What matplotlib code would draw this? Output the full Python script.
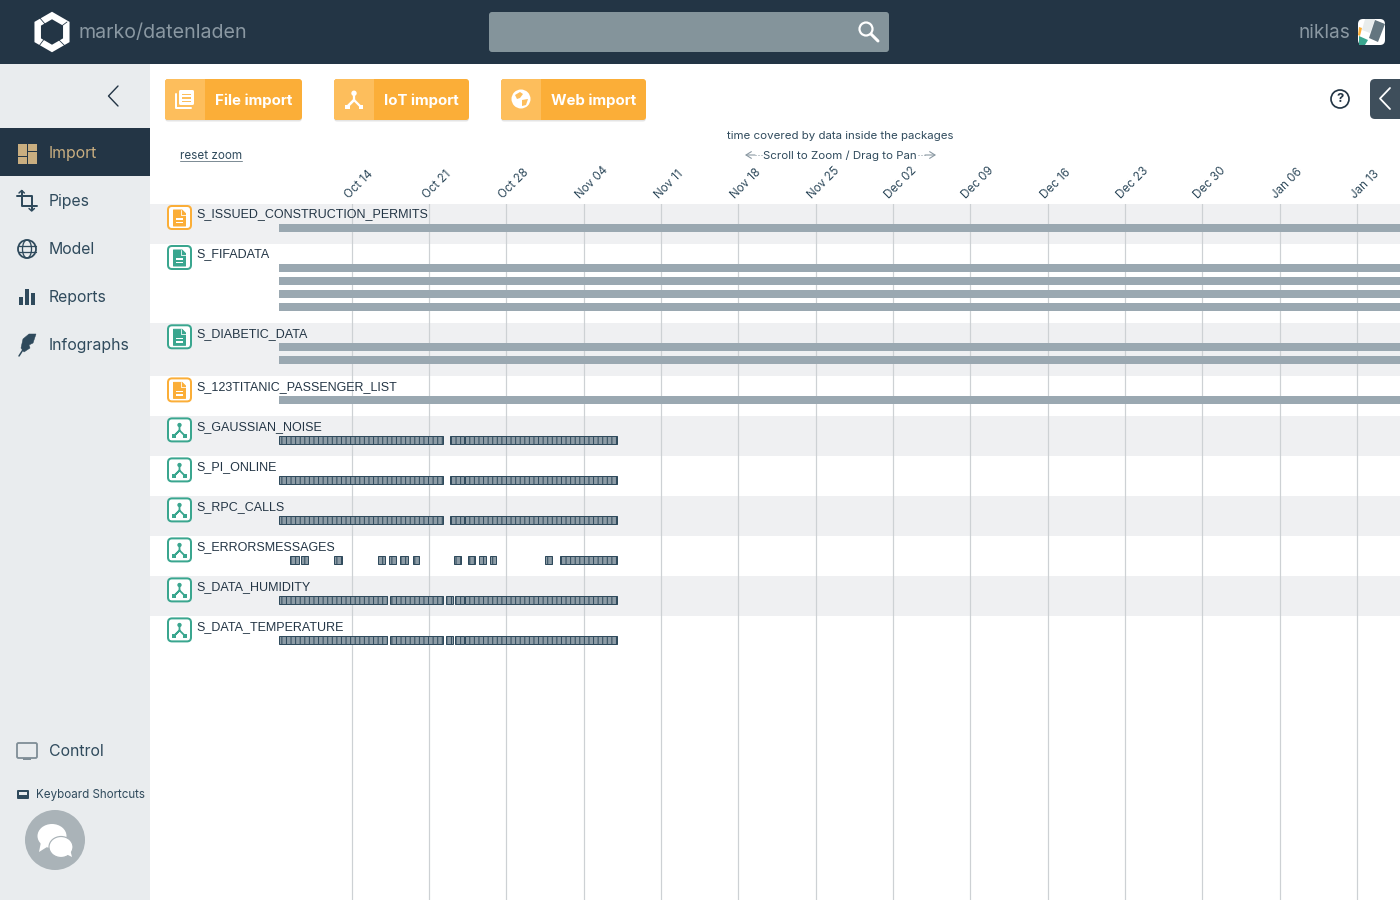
#!/usr/bin/env python
"""Recreates the data package timeline screen."""

import matplotlib
matplotlib.use('Agg')
import matplotlib.pyplot as plt
import matplotlib.dates as mdates
from datetime import datetime, timedelta
from matplotlib.patches import Circle, Ellipse, FancyBboxPatch, Polygon, Rectangle, RegularPolygon
from matplotlib.transforms import ScaledTranslation

DPI = 110

# data: all spans are days relative to Oct 14
row_names = ['S_ISSUED_CONSTRUCTION_PERMITS', 'S_FIFADATA', 'S_DIABETIC_DATA', 'S_123TITANIC_PASSENGER_LIST',
             'S_GAUSSIAN_NOISE', 'S_PI_ONLINE', 'S_RPC_CALLS', 'S_ERRORSMESSAGES', 'S_DATA_HUMIDITY', 'S_DATA_TEMPERATURE']
row_kinds = ['file_orange', 'file_teal', 'file_teal', 'file_orange', 'iot', 'iot', 'iot', 'iot', 'iot', 'iot']

full_start = -6.56
full_end = 100
file_tracks = {'S_ISSUED_CONSTRUCTION_PERMITS': 1, 'S_FIFADATA': 4, 'S_DIABETIC_DATA': 2, 'S_123TITANIC_PASSENGER_LIST': 1}

dense_spans = [(-6.56, 8.28), (8.91, 10.18), (10.27, 24.03)]
error_spans = [(-5.57, -4.75), (-4.57, -3.94), (-1.58, -0.86), (2.40, 3.03), (3.39, 4.03), (4.39, 5.11),
               (5.57, 6.11), (9.28, 9.91), (10.54, 11.18), (11.54, 12.17), (12.53, 13.08), (17.51, 18.14),
               (18.87, 24.03)]
sensor_spans = [(-6.56, 3.21), (3.48, 8.28), (8.55, 9.19), (9.37, 10.18), (10.27, 24.03)]
iot_spans = {'S_GAUSSIAN_NOISE': dense_spans, 'S_PI_ONLINE': dense_spans, 'S_RPC_CALLS': dense_spans,
             'S_ERRORSMESSAGES': error_spans, 'S_DATA_HUMIDITY': sensor_spans, 'S_DATA_TEMPERATURE': sensor_spans}

tick_labels = ['Oct 14', 'Oct 21', 'Oct 28', 'Nov 04', 'Nov 11', 'Nov 18', 'Nov 25',
               'Dec 02', 'Dec 09', 'Dec 16', 'Dec 23', 'Dec 30', 'Jan 06', 'Jan 13']
tick_days = [0, 7, 14, 21, 28, 35, 42, 49, 56, 63, 70, 77, 84, 91]

nav_items = ['Import', 'Pipes', 'Model', 'Reports', 'Infographs']

DARK = '#233545'
SIDE = '#e9ecee'
ORANGE = '#fbae38'
ORANGE_L = '#fdbe5c'
TEAL = '#3aa68f'
SLATE = '#2f4a5c'
MUTED = '#8a98a2'
UI_FONT = ['Inter', 'DejaVu Sans']
ROW_FONT = ['Liberation Sans', 'DejaVu Sans']

base_date = datetime(2018, 10, 14)


def fs(px):
    """Font size in points from a size in pixels."""
    return px * 72 / DPI


def lw(px):
    return px * 72 / DPI


def to_date(day):
    return mdates.date2num(base_date + timedelta(days=day))


def rounded(ax, x, y, w, h, r, **kw):
    p = FancyBboxPatch((x + r, y + r), w - 2 * r, h - 2 * r, boxstyle=f'round,pad={r},rounding_size={r}', **kw)
    ax.add_patch(p)
    return p


def rect(ax, x, y, w, h, color, **kw):
    ax.add_patch(Rectangle((x, y), w, h, facecolor=color, edgecolor='none', **kw))


def line(ax, xs, ys, color, width=1.5, **kw):
    ax.plot(xs, ys, color=color, lw=lw(width), solid_capstyle='round', solid_joinstyle='round', **kw)


def node_icon(ax, cx, cy, s, color):
    """Three connected nodes, s is half of the icon size."""
    line(ax, [cx, cx, cx - s, cx], [cy - s, cy, cy + s, cy], color, s * 0.3)
    line(ax, [cx, cx + s], [cy, cy + s], color, s * 0.3)
    ax.add_patch(Circle((cx, cy - s * 0.9), s * 0.36, fc=color, ec='none'))
    rect(ax, cx - s * 1.2, cy + s * 0.65, s * 0.6, s * 0.6, color)
    rect(ax, cx + s * 0.6, cy + s * 0.65, s * 0.6, s * 0.6, color)


def doc_icon(ax, cx, cy, color):
    ax.add_patch(Polygon([(cx - 6, cy - 8), (cx + 2.5, cy - 8), (cx + 6, cy - 4.5), (cx + 6, cy + 8), (cx - 6, cy + 8)],
                         fc=color, ec=color, lw=lw(1), joinstyle='round'))
    line(ax, [cx + 1.5, cx + 1.5, cx + 6], [cy - 8, cy - 3.5, cy - 3.5], 'white', 0.8)
    rect(ax, cx - 3.5, cy + 0.3, 7, 1.5, 'white')
    rect(ax, cx - 3.5, cy + 3.8, 7, 1.5, 'white')


def row_icon(ax, top, kind):
    color = ORANGE if kind == 'file_orange' else TEAL
    rounded(ax, 168, top + 2, 23, 23, 4, fc='white', ec=color, lw=lw(2))
    cy = top + 14
    if kind == 'iot':
        node_icon(ax, 179.5, cy, 6, TEAL)
    else:
        doc_icon(ax, 179.5, cy, color)


def draw_chart(fig):
    """Row bands, grid and package bars in a date axes."""
    ax = fig.add_axes([150 / 1400, 0, 1250 / 1400, 696 / 900])
    ax.patch.set_alpha(0)
    ax.set_xlim(to_date(-18.24), to_date(94.89))
    ax.set_ylim(900, 204)
    for s in ax.spines.values():
        s.set_visible(False)

    ticks = [to_date(d) for d in tick_days]
    ax.set_xticks(ticks, tick_labels)
    ax.set_yticks([])
    ax.tick_params(axis='x', length=0, top=False, bottom=False, labeltop=True, labelbottom=False, pad=2)
    offset = ScaledTranslation(8 / DPI, 0, fig.dpi_scale_trans)
    for label in ax.get_xticklabels():
        label.set(rotation=45, ha='center', va='bottom', fontsize=fs(11.6), color=SLATE, family=UI_FONT)
        label.set_transform(label.get_transform() + offset)
    ax.set_axisbelow(True)
    ax.grid(axis='x', color='#cdd1d4', lw=lw(1.2), zorder=2)

    tops = []
    top = 204
    for i, name in enumerate(row_names):
        tops.append(top)
        tracks = file_tracks.get(name, 1)
        height = 40 + 13.1 * (tracks - 1)
        if i % 2 == 0:
            ax.axhspan(top, top + height, color='#eff0f2', lw=0, zorder=0)
        for t in range(file_tracks.get(name, 0)):
            ax.barh(top + 24 + 13.1 * t, to_date(full_end) - to_date(full_start), left=to_date(full_start), height=8,
                    color='#9aa8b1', zorder=3)
        for start, end in iot_spans.get(name, []):
            ax.barh(top + 23.5, to_date(end) - to_date(start), left=to_date(start), height=8.5,
                    facecolor='#8d9ca6', edgecolor=SLATE, hatch='||||', lw=lw(1), zorder=3)
        top += height
    return tops


def draw_header(ax):
    rect(ax, 0, 0, 1400, 64, DARK)
    ax.add_patch(RegularPolygon((52, 32), 6, radius=16.5, fc='none', ec='white', lw=lw(6.5)))
    for xs, ys in [((39, 45), (17, 24)), ((67, 59), (22, 28)), ((66, 58), (47, 39)), ((39, 45), (46, 38))]:
        line(ax, xs, ys, DARK, 0.8)
    ax.text(79, 33.5, 'marko/datenladen', color=MUTED, fontsize=fs(19.6), family=UI_FONT, va='center')

    rounded(ax, 489, 12, 400, 40, 3, fc='#84949b', ec='none')
    ax.add_patch(Circle((866, 29), 6.5, fc='none', ec='white', lw=lw(2.2)))
    line(ax, [871, 878], [34, 41], 'white', 3)

    ax.text(1350, 33.5, 'niklas', color=MUTED, fontsize=fs(19), family=UI_FONT, va='center', ha='right')
    rounded(ax, 1358, 19, 27, 26, 5, fc='white', ec='none')
    ax.add_patch(Polygon([(1365, 19), (1375, 19), (1370, 33), (1362, 30)], fc='#e8ecec', ec='none'))
    ax.add_patch(Polygon([(1375, 20), (1385, 24), (1378, 42), (1369, 38)], fc='#63757f', ec='none'))
    ax.add_patch(Polygon([(1359, 27), (1362, 28), (1360, 36), (1358, 35)], fc=ORANGE, ec='none'))
    ax.add_patch(Polygon([(1359, 36), (1368, 40), (1365, 45), (1359, 45)], fc=TEAL, ec='none'))


def draw_sidebar(ax):
    rect(ax, 0, 64, 150, 836, SIDE)
    line(ax, [118, 108.5, 118], [86, 96, 106], DARK, 1.4)
    rect(ax, 0, 128, 150, 48, DARK)
    tan = '#c9ae80'
    rect(ax, 18, 144, 9, 12, tan)
    rect(ax, 18, 157, 9, 6.5, tan)
    rect(ax, 28, 144, 9, 6.5, tan)
    rect(ax, 28, 151.5, 9, 12, tan)

    for i, name in enumerate(nav_items):
        y = 153.5 + 48 * i
        ax.text(49, y, name, color=tan if i == 0 else SLATE, fontsize=fs(15.8), family=UI_FONT, va='center')

    # Pipes
    line(ax, [21.7, 21.7, 37], [191, 206, 206], SLATE, 2)
    line(ax, [17, 31.7, 31.7], [196, 196, 210], SLATE, 2)
    line(ax, [19, 21.7, 24.4], [193, 190.5, 193], SLATE, 1.5)
    line(ax, [29, 31.7, 34.4], [208.5, 211, 208.5], SLATE, 1.5)
    # Model
    ax.add_patch(Circle((27, 249), 9, fc='none', ec=SLATE, lw=lw(1.8)))
    ax.add_patch(Ellipse((27, 249), 9, 18, fc='none', ec=SLATE, lw=lw(1.3)))
    line(ax, [18.5, 35.5], [246, 246], SLATE, 1.3)
    line(ax, [18.5, 35.5], [252, 252], SLATE, 1.3)
    # Reports
    rect(ax, 19, 297, 4, 8, SLATE)
    rect(ax, 25, 289, 4, 16, SLATE)
    rect(ax, 31, 293, 4, 12, SLATE)
    # Infographs
    ax.add_patch(Polygon([(36, 334), (29, 334), (23, 339), (21, 348), (24, 352), (30, 348), (29, 345), (33, 343)],
                         fc=SLATE, ec=SLATE, lw=lw(0.5)))
    line(ax, [19, 26], [356, 345], SLATE, 1.5)

    # Control
    rounded(ax, 17, 743, 20, 15, 1.5, fc='none', ec='#7f8d96', lw=lw(1.8))
    rect(ax, 23, 758, 8, 2, '#7f8d96')
    ax.text(49, 751.5, 'Control', color=SLATE, fontsize=fs(15.8), family=UI_FONT, va='center')

    rounded(ax, 17, 790, 12, 9, 1, fc=SLATE, ec='none')
    rect(ax, 19, 792, 8, 3, SIDE)
    ax.text(36, 795, 'Keyboard Shortcuts', color=SLATE, fontsize=fs(11.6), family=UI_FONT, va='center')

    ax.add_patch(Circle((55, 840), 30, fc='#aab3b8', ec='none'))
    ax.add_patch(Ellipse((52, 836), 29, 24, fc='white', ec='none'))
    ax.add_patch(Polygon([(41, 842), (39, 852), (47, 847)], fc='white', ec='none'))
    ax.add_patch(Ellipse((61, 847), 24, 21, fc='white', ec='#aab3b8', lw=lw(1.2)))
    ax.add_patch(Polygon([(66, 854), (72, 857), (70, 849)], fc='white', ec='none'))


def draw_button(ax, x, width, label, icon):
    rounded(ax, x, 80.5, width, 41, 3, fc='#e4e4e4', ec='none')
    rounded(ax, x, 79, width, 41, 3, fc=ORANGE, ec='none')
    rounded(ax, x, 79, 40, 41, 3, fc=ORANGE_L, ec='none')
    rect(ax, x + 30, 79, 10, 41, ORANGE_L)
    cx = x + 20
    if icon == 'file':
        rounded(ax, cx - 6, 90, 15, 15, 1.5, fc='white', ec='none')
        for ly in (93.5, 97, 100.5):
            rect(ax, cx - 3, ly, 9, 1.6, ORANGE_L)
        line(ax, [cx - 9.5, cx - 9.5, cx + 6], [94, 108, 108], 'white', 2)
    elif icon == 'iot':
        node_icon(ax, cx, 100, 7.5, 'white')
    else:
        ax.add_patch(Circle((cx, 99), 9.5, fc='white', ec='none'))
        ax.add_patch(Polygon([(cx - 6, 95), (cx - 1, 92), (cx + 2, 94), (cx - 1, 98), (cx - 4, 99)], fc=ORANGE_L, ec='none'))
        ax.add_patch(Polygon([(cx + 1, 100), (cx + 7, 99), (cx + 5, 105), (cx + 1, 106)], fc=ORANGE_L, ec='none'))
    ax.text(x + 50, 100.5, label, color='white', fontsize=fs(15), fontweight='bold', family=UI_FONT, va='center')


def draw_toolbar(ax):
    draw_button(ax, 165, 137, 'File import', 'file')
    draw_button(ax, 334, 135, 'IoT import', 'iot')
    draw_button(ax, 501, 145, 'Web import', 'web')

    ax.add_patch(Circle((1340, 99), 9, fc='none', ec=DARK, lw=lw(1.7)))
    ax.text(1340, 99.5, '?', color=DARK, fontsize=fs(13), fontweight='bold', family=UI_FONT, ha='center', va='center')
    rounded(ax, 1370, 79, 40, 40, 5, fc='#3e4e5b', ec='none')
    line(ax, [1390, 1380, 1390], [88, 98.5, 109], 'white', 1.8)

    ax.text(840, 136, 'time covered by data inside the packages', color=SLATE, fontsize=fs(11.5),
            family=UI_FONT, ha='center', va='center')
    ax.text(840, 155.5, 'Scroll to Zoom / Drag to Pan', color=SLATE, fontsize=fs(11.5),
            family=UI_FONT, ha='center', va='center')
    for tip, tail, dots in [(745, 755, 762), (936, 925, 918)]:
        ax.annotate('', xy=(tip, 155), xytext=(tail, 155),
                    arrowprops=dict(arrowstyle='->,head_length=0.35,head_width=0.22', color='#8a98a2', lw=lw(1.1),
                                    shrinkA=0, shrinkB=0))
        ax.plot([tail, dots], [155, 155], color='#8a98a2', lw=lw(1), ls=(0, (1, 2)))
    ax.text(180, 156, 'reset zoom', color=SLATE, fontsize=fs(11.7), family=UI_FONT, va='center')
    line(ax, [180, 241.5], [161, 161], '#7f8d96', 1)


def main():
    fig = plt.figure(figsize=(1400 / DPI, 900 / DPI), dpi=DPI, facecolor='white')
    plt.rcParams['hatch.linewidth'] = 0.65

    tops = draw_chart(fig)

    ui = fig.add_axes([0, 0, 1, 1], zorder=5)
    ui.patch.set_alpha(0)
    ui.set_xlim(0, 1400)
    ui.set_ylim(900, 0)
    ui.axis('off')

    draw_header(ui)
    draw_sidebar(ui)
    draw_toolbar(ui)

    for name, kind, top in zip(row_names, row_kinds, tops):
        row_icon(ui, top, kind)
        ui.text(196.5, top + 10.5, name, color=DARK, fontsize=fs(12.5), family=ROW_FONT, va='center')

    fig.savefig('out.png', dpi=DPI)


if __name__ == "__main__":
    main()
